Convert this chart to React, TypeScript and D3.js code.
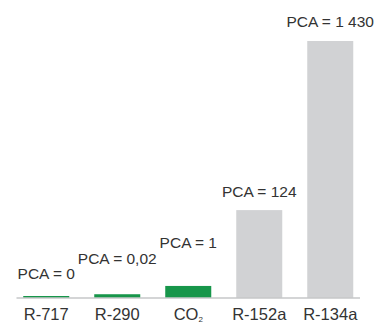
import React from "react";
import * as d3 from "d3";

// Refrigerants and their global-warming potential (PCA)
const categories = ["R-717", "R-290", "CO2", "R-152a", "R-134a"];
const pcaValues = [0, 0.02, 1, 124, 1430];
const isNatural = [true, true, true, false, false];

const WIDTH = 391;
const HEIGHT = 324;
const BASELINE = 297.5;
const TOP = 41;
// vertical lift of each value label above its bar top (label staggering)
const LABEL_LIFT = [17, 30, 38, 13, 14];

const GREEN = "#17964a";
const GREY = "#d1d2d4";
const TEXT = "#333333";
const FONT = "'Liberation Sans', Arial, Helvetica, sans-serif";

const locale = d3.formatLocale({ decimal: ",", thousands: "\u00a0", grouping: [3], currency: ["", ""] });
const fmt = locale.format(",");

export default function App() {
  const x = d3
    .scaleBand<string>()
    .domain(categories)
    .range([16.5, 360])
    .paddingInner(0.352)
    .paddingOuter(0.095);

  const y = d3
    .scalePow()
    .exponent(0.445)
    .domain([0, d3.max(pcaValues) as number])
    .range([BASELINE - 1.5, TOP]);

  return (
    <svg
      width={WIDTH}
      height={HEIGHT}
      style={{ position: "absolute", left: 0, top: 0, display: "block" }}
      fontFamily={FONT}
    >
      <rect width={WIDTH} height={HEIGHT} fill="#ffffff" />
      {categories.map((c, i) => {
        const x0 = x(c) as number;
        const top = y(pcaValues[i]);
        const cx = x0 + x.bandwidth() / 2;
        return (
          <g key={c}>
            <rect
              x={x0}
              y={top}
              width={x.bandwidth()}
              height={BASELINE - top}
              fill={isNatural[i] ? GREEN : GREY}
            />
            <text
              x={cx}
              y={top - LABEL_LIFT[i]}
              textAnchor="middle"
              fontSize={15.5}
              fill={TEXT}
            >
              {`PCA = ${fmt(pcaValues[i])}`}
            </text>
            <text x={cx} y={320} textAnchor="middle" fontSize={16.5} fill={TEXT}>
              {c === "CO2" ? (
                <>
                  CO
                  <tspan fontSize={8} dy={1.5}>
                    2
                  </tspan>
                </>
              ) : (
                c
              )}
            </text>
          </g>
        );
      })}
      <line x1={16.5} x2={360} y1={BASELINE + 0.5} y2={BASELINE + 0.5} stroke="#a9abae" strokeWidth={1.2} />
    </svg>
  );
}
